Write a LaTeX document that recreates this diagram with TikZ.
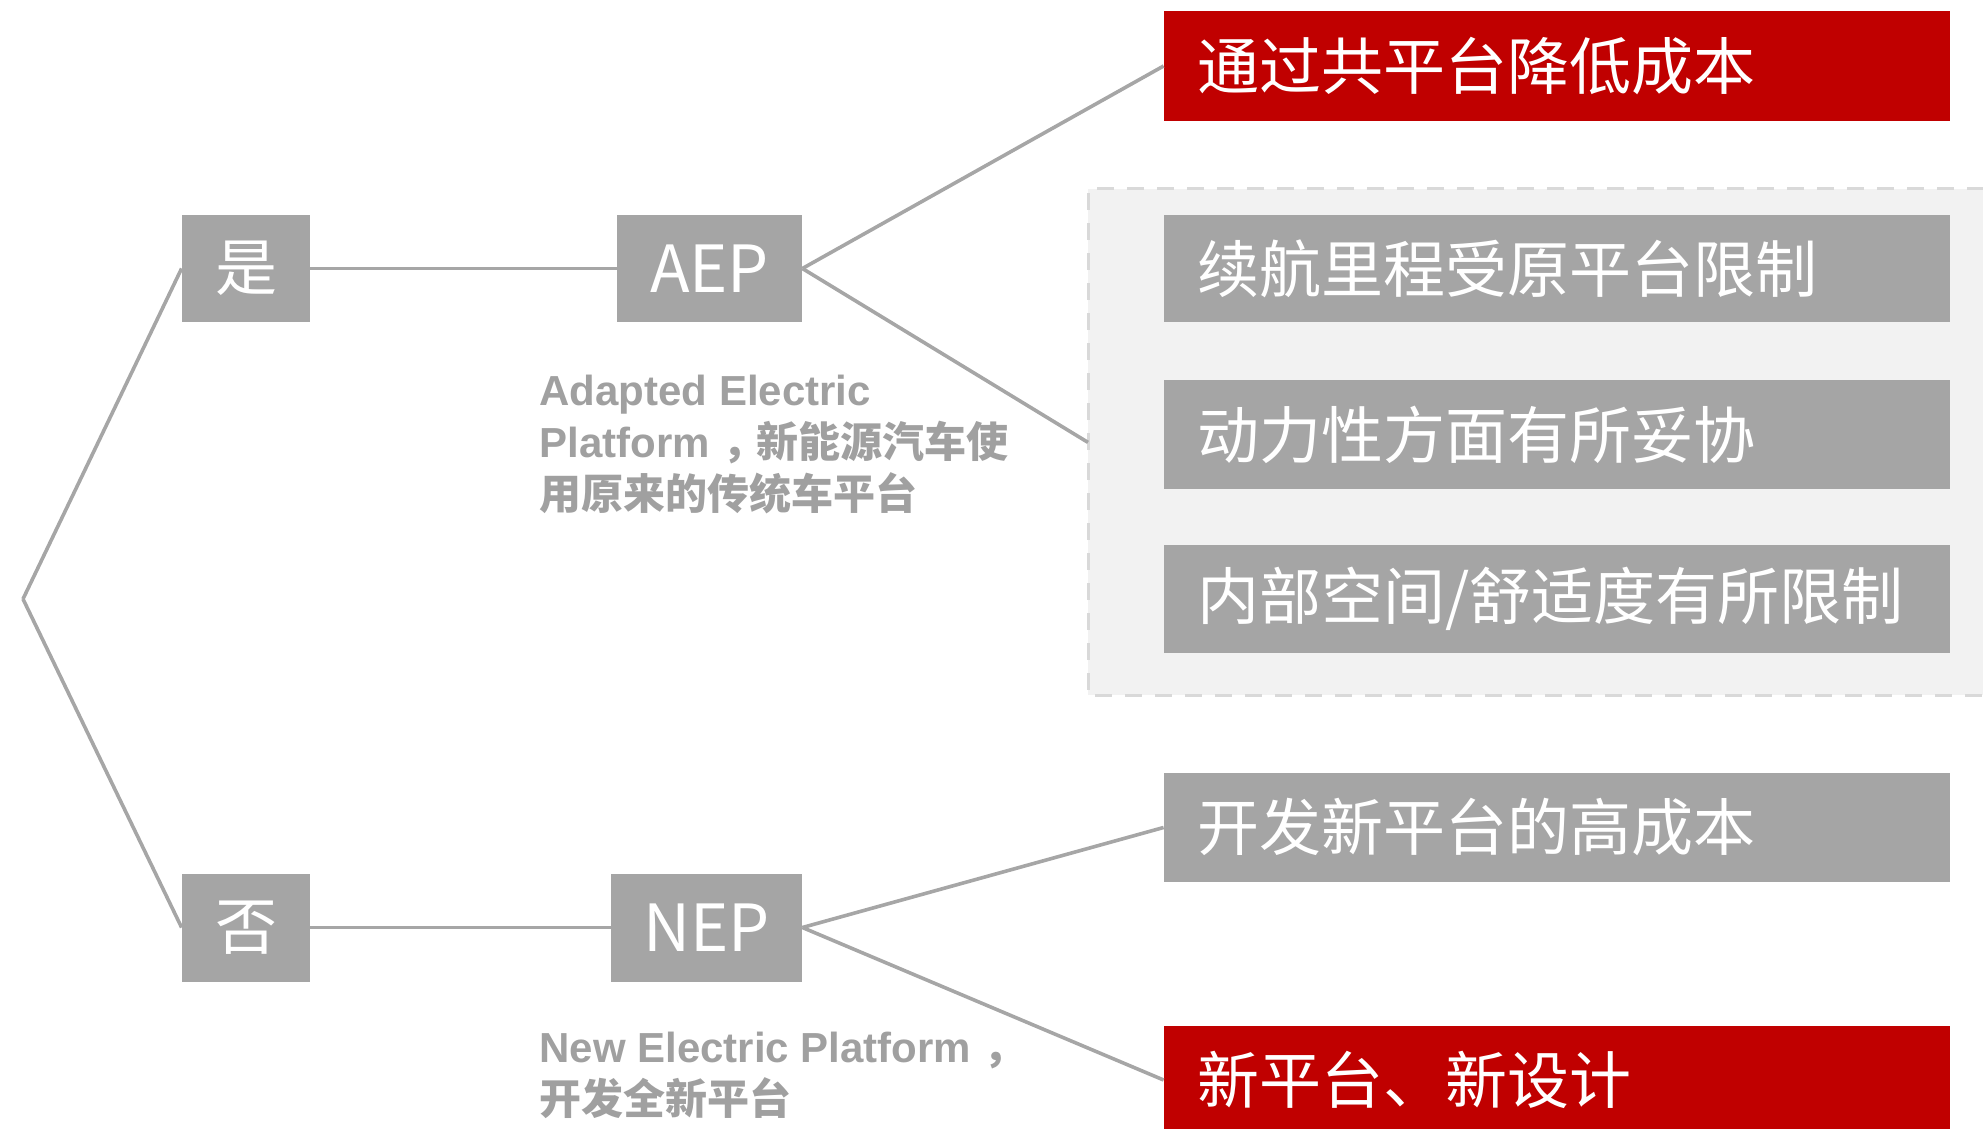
\documentclass[tikz,border=0pt]{standalone}
\usepackage{fontspec}
\setmainfont{Liberation Sans}
\newfontfamily\cjk{Noto Sans CJK SC}
\newfontfamily\lat{Liberation Sans}
\definecolor{boxgray}{HTML}{A5A5A5}
\definecolor{boxred}{HTML}{C00000}
\definecolor{linegray}{HTML}{A6A6A6}
\definecolor{labelgray}{HTML}{A0A0A0}
\definecolor{regionfill}{HTML}{F2F2F2}
\definecolor{regionline}{HTML}{D9D9D9}
\begin{document}
\begin{tikzpicture}[x=0.5pt,y=-0.5pt,
  box/.style={fill=boxgray, text=white, inner sep=0pt, font=\cjk\fontsize{31pt}{36pt}\selectfont},
  smallbox/.style={box, minimum height=53.5pt},
  itembox/.style={box, minimum height=54pt, text width=360pt, inner xsep=16.5pt, inner ysep=0pt, align=left},
  redbox/.style={itembox, fill=boxred},
  conn/.style={draw=linegray, line width=1.8pt},
  lbl/.style={text=labelgray, inner sep=0pt, align=left, anchor=north west, font=\lat\bfseries\fontsize{21pt}{26pt}\selectfont}]
\useasboundingbox (0,0) rectangle (1983,1129);

% grey region
\node[fill=regionfill, minimum width=447.5pt, minimum height=253pt, inner sep=0pt, anchor=north west] (region) at (1088,189) {};
\draw[regionline, line width=1.5pt, dash pattern=on 8.5pt off 6.5pt] (region.north east) -- (region.north west) -- (region.south west) -- (region.south east);

% left nodes
\coordinate (root) at (23,599);
\node[smallbox, minimum width=64pt] (shi) at (246,268.5) {是};
\node[smallbox, minimum width=64pt, minimum height=54pt] (fou) at (246,927.5) {否};
\node[smallbox, minimum width=92.5pt, font=\cjk\fontsize{32.5pt}{38pt}\selectfont] (aep) at (709.5,268.5) {AEP};
\node[smallbox, minimum width=95.5pt, minimum height=54pt, font=\cjk\fontsize{32.5pt}{38pt}\selectfont] (nep) at (706.5,927.5) {NEP};

% right boxes
\node[redbox, minimum height=55pt] (r1) at (1557,66) {通过共平台降低成本};
\node[itembox, minimum height=53.5pt] (g1) at (1557,268.5) {续航里程受原平台限制};
\node[itembox, minimum height=54.5pt] (g2) at (1557,434.5) {动力性方面有所妥协};
\node[itembox] (g3) at (1557,599) {内部空间/舒适度有所限制};
\node[itembox, minimum height=54.5pt] (g4) at (1557,827.5) {开发新平台的高成本};
\node[redbox] (r2) at (1557,1080) {新平台、新设计};

% connectors
\draw[conn] (root) -- (shi.west);
\draw[conn] (root) -- (fou.west);
\draw[conn] (shi) -- (aep);
\draw[conn] (fou) -- (nep);
\draw[conn] (aep.east) -- (r1.west);
\draw[conn] (aep.east) -- (region.west);
\draw[conn] (nep.east) -- (g4.west);
\draw[conn] (nep.east) -- (r2.west);

% labels
\node[lbl] (aeplbl) at (539,375) {Adapted Electric\\Platform{\cjk\kern0.3em ，\kern-0.2em 新能源汽车使}\\{\cjk 用原来的传统车平台}};
\node[lbl] (neplbl) at (539,1032) {New Electric Platform{\cjk\kern0.3em ，}\\{\cjk 开发全新平台}};
\end{tikzpicture}
\end{document}
